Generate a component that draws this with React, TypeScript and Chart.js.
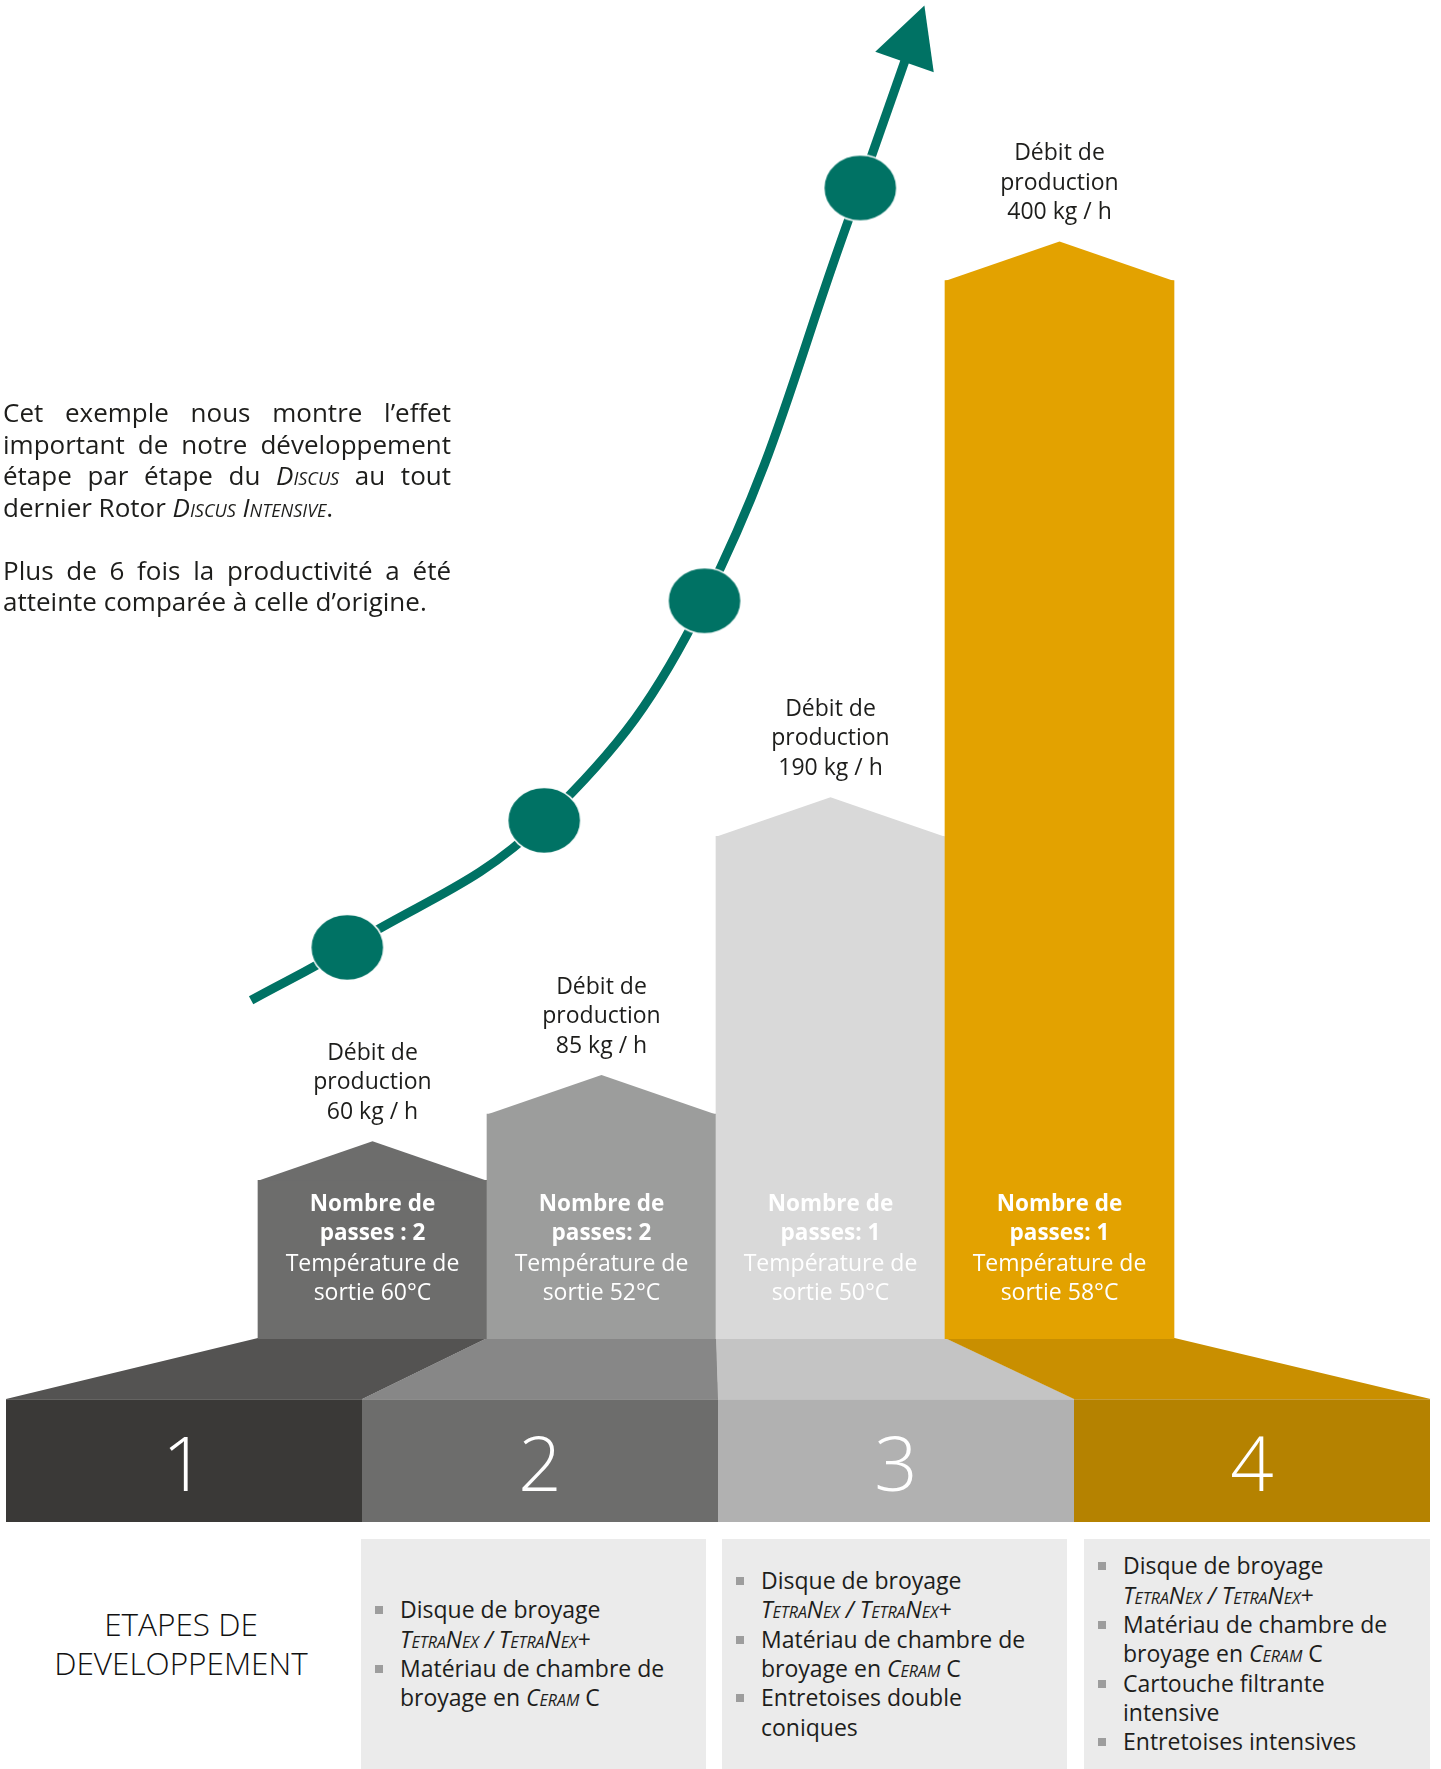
import React, { useEffect, useRef } from 'react';
import { Chart, registerables } from 'chart.js';

Chart.register(...registerables);

// ---------- data ----------
const stages = ['1', '2', '3', '4'];
const production = [60, 85, 190, 400]; // kg / h
const passes = [2, 2, 1, 1];
const passSep = [' : ', ': ', ': ', ': '];
const exitTemp = [60, 52, 50, 58]; // °C

// growth curve (same units as the bars: x = stage position, y = kg/h scale)
const curveX = [0.47, 0.89, 1.75, 2.45, 3.13];
const curveY = [128, 148, 196, 279, 435];
const arrowTipX = 3.41;
const arrowTipY = 504;

// ---------- styles ----------
const FONT = '"Open Sans", "Noto Sans", sans-serif';
const TEAL = '#007264';
const barColors = ['#6d6d6c', '#9c9d9c', '#d9d9d9', '#e3a200'];
const rampColors = ['#545352', '#878787', '#c4c4c4', '#c98f00'];
const boxColors = ['#3a3937', '#6d6d6c', '#b1b1b1', '#b58200'];

function makeDot(): HTMLCanvasElement {
  const c = document.createElement('canvas');
  c.width = 76;
  c.height = 69;
  const g = c.getContext('2d')!;
  g.beginPath();
  g.ellipse(38, 34.5, 36.5, 33, 0, 0, Math.PI * 2);
  g.fillStyle = TEAL;
  g.fill();
  g.lineWidth = 1.5;
  g.strokeStyle = '#ffffff';
  g.stroke();
  return c;
}

const infographic = {
  id: 'infographic',
  beforeDatasetsDraw(chart: any) {
    const ctx = chart.ctx;
    const bars = chart.getDatasetMeta(0).data;
    const xBox = chart.scales.xBox;
    const base = chart.scales.y.getPixelForValue(0);
    const boxTop = base + 60;
    const boxBottom = base + 183;
    ctx.save();
    bars.forEach((bar: any, i: number) => {
      const { x, width } = bar.getProps(['x', 'width'], true);
      const l = x - width / 2;
      const r = x + width / 2;
      const bl = xBox.getPixelForValue(i);
      const br = xBox.getPixelForValue(i + 1);
      ctx.fillStyle = rampColors[i];
      ctx.beginPath();
      ctx.moveTo(l, base - 1);
      ctx.lineTo(r + 0.5, base - 1);
      ctx.lineTo(br + 0.5, boxTop);
      ctx.lineTo(bl, boxTop);
      ctx.closePath();
      ctx.fill();
    });
    bars.forEach((_bar: any, i: number) => {
      const bl = xBox.getPixelForValue(i);
      const br = xBox.getPixelForValue(i + 1);
      ctx.fillStyle = boxColors[i];
      ctx.fillRect(bl, boxTop, br - bl + (i < 3 ? 0.5 : 0), boxBottom - boxTop);
      ctx.fillStyle = 'rgba(255,255,255,0.22)';
      ctx.fillRect(bl, boxTop, br - bl, 1);
      ctx.fillStyle = '#ffffff';
      ctx.font = `300 76px ${FONT}`;
      ctx.textAlign = 'center';
      ctx.textBaseline = 'alphabetic';
      ctx.fillText(stages[i], (bl + br) / 2, boxTop + 92);
    });
    ctx.restore();
  },
  afterDatasetDraw(chart: any, args: any) {
    const ctx = chart.ctx;
    if (args.index === 0) {
      const base = chart.scales.y.getPixelForValue(0);
      ctx.save();
      args.meta.data.forEach((bar: any, i: number) => {
        const { x, y, width } = bar.getProps(['x', 'y', 'width'], true);
        const roof = 39;
        ctx.fillStyle = barColors[i];
        ctx.beginPath();
        ctx.moveTo(x - width / 2, y + 0.5);
        ctx.lineTo(x, y - roof);
        ctx.lineTo(x + width / 2, y + 0.5);
        ctx.closePath();
        ctx.fill();

        ctx.textAlign = 'center';
        ctx.textBaseline = 'middle';
        ctx.fillStyle = '#1d1d1b';
        ctx.font = `400 23px ${FONT}`;
        const peak = y - roof;
        const lines = ['Débit de', 'production', `${production[i]} kg / h`];
        lines.forEach((t, k) => ctx.fillText(t, x, peak - 29 - (2 - k) * 29.5));

        ctx.fillStyle = '#ffffff';
        ctx.font = `700 22.5px ${FONT}`;
        ctx.fillText('Nombre de', x, base - 134);
        ctx.fillText(`passes${passSep[i]}${passes[i]}`, x, base - 105);
        ctx.font = `400 23px ${FONT}`;
        ctx.fillText('Température de', x, base - 75);
        ctx.fillText(`sortie ${exitTemp[i]}°C`, x, base - 46);
      });
      ctx.restore();
    }
    if (args.index === 1) {
      const pts = args.meta.data;
      const p0 = pts[0];
      const p1 = pts[1];
      const ang = Math.atan2(p1.y - p0.y, p1.x - p0.x);
      const dx = Math.cos(ang);
      const dy = Math.sin(ang);
      const headLen = 60;
      const half = 31;
      const bx = p1.x - dx * headLen;
      const by = p1.y - dy * headLen;
      ctx.save();
      ctx.strokeStyle = TEAL;
      ctx.lineWidth = 9;
      ctx.beginPath();
      ctx.moveTo(p0.x, p0.y);
      ctx.lineTo(bx + dx * 4, by + dy * 4);
      ctx.stroke();
      ctx.fillStyle = TEAL;
      ctx.beginPath();
      ctx.moveTo(p1.x, p1.y);
      ctx.lineTo(bx - dy * half, by + dx * half);
      ctx.lineTo(bx + dy * half, by - dx * half);
      ctx.closePath();
      ctx.fill();
      ctx.restore();
    }
  },
};

const SC = ({ children }: { children: React.ReactNode }) => (
  <span style={{ fontStyle: 'italic', fontVariant: 'small-caps' }}>{children}</span>
);

const Item = ({ children }: { children: React.ReactNode }) => (
  <div style={{ position: 'relative', paddingLeft: 25 }}>
    <span
      style={{
        position: 'absolute',
        left: 0,
        top: 11,
        width: 8,
        height: 8,
        background: '#9d9d9d',
      }}
    />
    {children}
  </div>
);

const Box = ({ left, width, children }: { left: number; width: number; children: React.ReactNode }) => (
  <div
    style={{
      position: 'absolute',
      left,
      top: 1539,
      width,
      height: 230,
      background: '#ebebeb',
      display: 'flex',
      alignItems: 'center',
      boxSizing: 'border-box',
      paddingLeft: 14,
      fontSize: 23,
      lineHeight: '29.3px',
      color: '#1d1d1b',
    }}
  >
    <div>{children}</div>
  </div>
);

const Line = ({ children, last }: { children: React.ReactNode; last?: boolean }) => (
  <div
    style={{
      textAlign: last ? 'left' : 'justify',
      textAlignLast: last ? 'left' : 'justify',
      whiteSpace: 'nowrap',
    } as any}
  >
    {children}
  </div>
);

const Disque = () => (
  <Item>
    Disque de broyage
    <br />
    <SC>TetraNex / TetraNex+</SC>
  </Item>
);
const Materiau = () => (
  <Item>
    Matériau de chambre de
    <br />
    broyage en <SC>Ceram</SC> C
  </Item>
);

export default function App() {
  const ref = useRef<HTMLCanvasElement>(null);

  useEffect(() => {
    document.body.style.margin = '0';
    const dot = makeDot();
    const chart = new Chart(ref.current as HTMLCanvasElement, {
      type: 'bar',
      data: {
        datasets: [
          {
            type: 'bar',
            data: production.map((v, i) => ({ x: i + 1, y: v })),
            backgroundColor: barColors,
            borderWidth: 0,
            barPercentage: 1,
            categoryPercentage: 1,
            xAxisID: 'x',
            yAxisID: 'y',
            order: 3,
          } as any,
          {
            type: 'line',
            data: [
              { x: curveX[curveX.length - 1], y: curveY[curveY.length - 1] },
              { x: arrowTipX, y: arrowTipY },
            ],
            showLine: false,
            pointRadius: 0,
            xAxisID: 'x',
            yAxisID: 'y',
            clip: false,
            order: 2,
          } as any,
          {
            type: 'line',
            data: curveX.map((x, i) => ({ x, y: curveY[i] })),
            borderColor: TEAL,
            borderWidth: 9,
            tension: 0.4,
            fill: false,
            pointStyle: dot,
            pointRadius: (c: any) => (c.dataIndex === 0 ? 0 : 36),
            pointBorderWidth: 0,
            xAxisID: 'x',
            yAxisID: 'y',
            clip: false,
            order: 1,
          } as any,
        ],
      },
      options: {
        responsive: false,
        animation: false,
        events: [],
        layout: { autoPadding: false, padding: { left: 6, right: 11, top: 16, bottom: 191 } },
        plugins: { legend: { display: false }, tooltip: { enabled: false } },
        scales: {
          x: {
            type: 'linear',
            display: false,
            offset: false,
            min: -0.6004,
            max: 5.6179,
            ticks: { stepSize: 1, includeBounds: false },
          },
          xBox: {
            type: 'linear',
            position: 'bottom',
            display: false,
            offset: false,
            min: 0,
            max: 4,
            ticks: { stepSize: 1 },
          },
          y: { type: 'linear', display: false, min: 0, max: 500 },
        },
      } as any,
      plugins: [infographic],
    });
    return () => chart.destroy();
  }, []);

  return (
    <div
      style={{
        position: 'relative',
        width: 1441,
        height: 1769,
        overflow: 'hidden',
        fontFamily: FONT,
        color: '#1d1d1b',
        background: '#ffffff',
      }}
    >
      <style>{'body{margin:0}'}</style>
      <canvas ref={ref} width={1441} height={1530} style={{ position: 'absolute', left: 0, top: 0 }} />

      <div style={{ position: 'absolute', left: 3, top: 397, width: 448, fontSize: 26, lineHeight: '31.5px' }}>
        <Line>Cet exemple nous montre l’effet</Line>
        <Line>important de notre développement</Line>
        <Line>
          étape par étape du <SC>Discus</SC> au tout
        </Line>
        <Line last>
          dernier Rotor <SC>Discus Intensive</SC>.
        </Line>
        <div style={{ height: 31.5 }} />
        <Line>Plus de 6 fois la productivité a été</Line>
        <Line last>atteinte comparée à celle d’origine.</Line>
      </div>

      <div
        style={{
          position: 'absolute',
          left: 0,
          top: 1604,
          width: 362,
          textAlign: 'center',
          fontSize: 31.5,
          fontWeight: 300,
          lineHeight: '39px',
          color: '#111111',
        }}
      >
        ETAPES DE
        <br />
        DEVELOPPEMENT
      </div>

      <Box left={361} width={345}>
        <Disque />
        <Materiau />
      </Box>
      <Box left={722} width={345}>
        <Disque />
        <Materiau />
        <Item>
          Entretoises double
          <br />
          coniques
        </Item>
      </Box>
      <Box left={1084} width={346}>
        <Disque />
        <Materiau />
        <Item>
          Cartouche filtrante
          <br />
          intensive
        </Item>
        <Item>Entretoises intensives</Item>
      </Box>
    </div>
  );
}
